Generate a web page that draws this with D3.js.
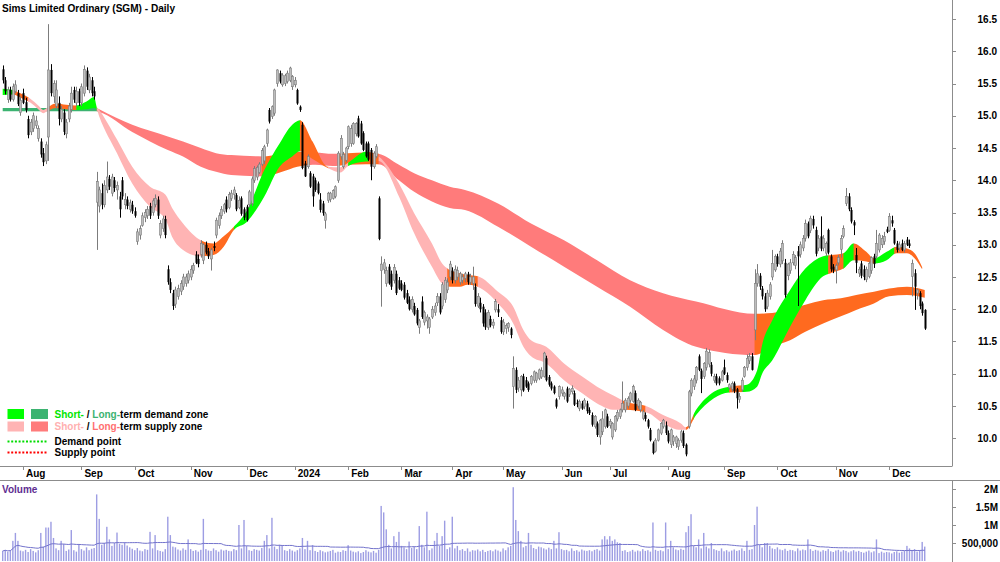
<!DOCTYPE html>
<html>
<head>
<meta charset="utf-8">
<script src="https://cdn.jsdelivr.net/npm/d3@7"></script>
<style>
  body { margin: 0; background: #fff; }
  svg { display: block; font-family: "Liberation Sans", Arial, sans-serif; }
</style>
</head>
<body>
<svg id="chart" width="1000" height="562"></svg>
<script>
// trading calendar: ASX weekdays 20 Jul 2023 .. 20 Dec 2024, public holidays removed
var holidays = ['2023-12-25', '2023-12-26', '2024-01-01', '2024-01-26', '2024-03-29', '2024-04-01', '2024-04-25', '2024-06-10'];

// daily OHLC (A$)
var opens = [
  15.72,15.55,15.25,15.40,15.25,15.38,15.35,15.05,15.35,15.21, 14.95,14.75,14.80,14.85,14.65,14.60,14.42,14.30,14.67,15.71,
  15.30,15.15,15.20,14.95,15.05,14.72,14.95,15.10,15.40,15.20, 15.38,15.20,15.35,15.70,15.40,15.55,15.38,13.66,13.60,13.80,
  13.62,13.85,14.02,13.80,14.00,13.85,13.75,14.00,13.62,13.70, 13.55,13.62,13.52,13.05,13.15,13.30,13.42,13.45,13.60,13.50,
  13.62,13.70,13.15,13.25,13.40,12.62,12.42,12.25,12.08,12.20, 12.28,12.35,12.40,12.45,12.50,12.60,12.85,12.78,12.85,12.76,
  13.00,12.90,12.78,12.98,13.15,13.30,13.45,13.52,13.70,13.58, 13.72,13.78,13.77,13.58,13.72,13.55,13.59,13.62,13.64,14.00,
  14.05,14.12,14.25,14.30,14.57,15.09,14.99,15.04,15.50,15.66, 15.48,15.50,15.53,15.55,15.45,15.48,15.40,15.14,14.86,14.26,
  14.21,14.11,14.06,14.00,13.95,13.70,13.64,13.38,13.69,13.70, 13.72,13.75,14.00,14.37,14.21,14.31,14.52,14.57,14.57,14.72,
  14.96,14.88,14.73,14.57,14.57,14.47,14.21,14.37,13.72,12.60, 12.62,12.40,12.66,12.55,12.45,12.55,12.45,12.40,12.38,12.25,
  12.15,12.00,12.05,11.99,11.72,12.12,11.80,11.82,11.72,11.88, 11.95,12.10,12.20,12.05,12.15,12.30,12.50,12.60,12.45,12.50,
  12.42,12.45,12.48,12.55,12.42,12.40,12.35,12.05,12.10,12.04, 11.95,11.72,11.85,11.75,11.99,12.00,11.83,11.65,11.70,11.72,
  11.70,10.80,11.06,10.78,10.75,10.96,10.90,10.85,10.85,10.90, 10.90,10.93,10.95,10.96,11.24,10.95,10.85,10.80,10.60,10.65,
  10.70,10.65,10.77,10.68,10.72,10.70,10.55,10.46,10.54,10.49, 10.54,10.44,10.36,10.18,10.23,10.02,10.10,10.18,10.34,10.20,
  10.02,10.13,10.30,10.34,10.44,10.44,10.50,10.59,10.57,10.70, 10.50,10.44,10.31,10.36,10.28,10.13,9.92,9.80,9.97,10.08,
  10.18,10.20,10.08,9.90,9.95,9.92,9.87,9.97,10.08,9.90, 10.18,10.70,10.80,10.90,11.27,11.05,10.96,11.10,11.15,11.14,
  10.90,10.96,10.93,10.90,11.10,10.98,10.78,10.76,10.85,10.76, 10.60,10.75,10.96,11.10,11.20,11.27,11.68,12.40,12.52,12.32,
  12.20,12.04,12.20,12.50,12.61,12.82,12.70,12.75,12.72,12.52, 12.60,12.72,12.68,12.90,12.85,12.95,13.10,13.33,13.22,13.40,
  13.23,12.95,13.13,12.95,12.87,13.23,12.82,12.66,12.61,12.72, 12.93,13.13,13.64,13.75,13.54,13.35,12.84,12.56,12.71,12.62,
  12.46,12.51,12.60,12.82,12.82,12.92,13.00,13.05,13.24,13.22, 13.38,13.23,13.02,12.95,13.02,12.92,13.08,13.02,12.51,12.56,
  12.25,12.25,12.09,11.99
];
var highs = [
  15.78,15.60,15.45,15.45,15.50,15.55,15.40,15.30,15.42,15.28, 15.00,14.95,15.05,15.00,14.85,14.65,14.50,14.60,16.42,15.80,
  15.55,15.55,15.30,15.15,15.10,14.95,15.20,15.45,15.45,15.45, 15.42,15.50,15.78,15.75,15.65,15.60,15.45,14.13,13.90,13.95,
  14.00,14.29,14.08,14.10,14.05,13.98,13.82,14.05,13.80,13.75, 13.70,13.68,13.58,13.25,13.30,13.50,13.55,13.60,13.65,13.72,
  13.78,13.75,13.38,13.45,13.45,12.68,12.48,12.30,12.35,12.38, 12.45,12.55,12.55,12.60,12.68,12.72,12.90,12.85,13.07,13.02,
  13.05,12.95,12.95,13.05,13.42,13.50,13.60,13.65,13.75,13.82, 13.85,13.90,13.80,13.75,13.75,13.58,13.62,13.85,14.06,14.22,
  14.23,14.28,14.50,14.55,14.80,15.12,15.16,15.42,15.72,15.70, 15.66,15.65,15.70,15.76,15.63,15.60,15.42,15.16,14.90,14.30,
  14.40,14.14,14.10,14.04,13.98,13.80,13.68,13.51,13.82,13.82, 13.86,13.92,14.45,14.70,14.44,14.52,14.85,14.86,14.90,14.90,
  15.00,14.92,14.76,14.60,14.60,14.50,14.45,14.56,13.75,12.82, 12.78,12.66,12.70,12.60,12.70,12.60,12.50,12.45,12.42,12.30,
  12.20,12.20,12.10,12.02,11.85,12.20,11.98,11.92,11.88,12.05, 12.10,12.25,12.25,12.42,12.50,12.48,12.75,12.65,12.68,12.66,
  12.58,12.55,12.58,12.58,12.55,12.66,12.40,12.25,12.18,12.08, 12.00,11.99,11.90,11.85,12.16,12.08,11.88,11.85,11.78,11.80,
  11.72,11.27,11.10,10.95,10.98,11.00,10.95,10.88,10.98,11.05, 11.03,11.08,11.10,11.34,11.28,10.98,10.88,10.82,10.62,10.82,
  10.80,10.72,10.80,10.78,10.82,10.74,10.60,10.60,10.58,10.62, 10.58,10.48,10.40,10.36,10.26,10.30,10.42,10.46,10.38,10.30,
  10.25,10.36,10.44,10.46,10.88,10.62,10.65,10.72,10.83,10.74, 10.62,10.58,10.44,10.40,10.30,10.16,9.95,10.00,10.15,10.25,
  10.30,10.26,10.12,10.15,10.05,10.04,10.00,10.13,10.12,9.92, 10.75,10.93,10.98,11.12,11.30,11.08,11.18,11.40,11.38,11.18,
  11.00,11.00,10.96,11.06,11.22,11.02,10.85,10.88,10.88,10.78, 10.70,10.94,11.12,11.30,11.32,11.32,12.62,12.70,12.56,12.36,
  12.25,12.30,12.42,12.92,12.85,12.86,12.95,13.07,12.78,12.72, 12.78,12.90,12.84,12.98,13.05,13.15,13.39,13.36,13.45,13.45,
  13.28,13.15,13.44,13.15,13.05,13.25,12.85,12.70,12.71,12.84, 13.15,13.30,13.88,13.80,13.58,13.38,12.95,12.66,12.75,12.68,
  12.66,12.74,12.82,12.86,13.23,13.18,13.15,13.20,13.28,13.49, 13.45,13.26,13.06,13.05,13.08,13.06,13.12,13.08,12.77,12.62,
  12.32,12.28,12.12,12.00
];
var lows = [
  15.50,15.33,15.20,15.22,15.22,15.35,15.15,15.00,15.18,15.05, 14.65,14.70,14.75,14.80,14.60,14.35,14.22,14.25,14.30,15.30,
  15.20,15.10,14.85,14.90,14.70,14.65,14.90,15.05,15.20,15.15, 15.15,15.15,15.30,15.40,15.35,15.30,15.25,12.92,13.50,13.55,
  13.58,13.80,13.85,13.75,13.82,13.70,13.42,13.70,13.55,13.55, 13.50,13.48,13.42,13.00,13.08,13.28,13.35,13.40,13.40,13.45,
  13.58,13.40,13.10,13.20,13.10,12.38,12.25,11.99,12.02,12.15, 12.22,12.30,12.35,12.40,12.45,12.55,12.70,12.65,12.80,12.70,
  12.85,12.78,12.60,12.90,13.10,13.25,13.40,13.48,13.50,13.55, 13.68,13.70,13.52,13.55,13.45,13.38,13.36,13.58,13.60,13.96,
  14.00,14.10,14.22,14.25,14.52,14.88,14.95,15.00,15.45,15.50, 15.45,15.46,15.50,15.52,15.40,15.44,15.17,15.06,14.17,14.05,
  14.18,13.88,13.59,13.82,13.78,13.50,13.45,13.25,13.65,13.66, 13.70,13.72,13.96,14.32,14.18,14.28,14.48,14.52,14.55,14.68,
  14.66,14.55,14.45,14.35,14.30,14.00,14.18,14.34,13.07,12.04, 12.55,12.35,12.38,12.30,12.40,12.22,12.30,12.28,12.15,12.08,
  11.98,11.95,11.90,11.75,11.62,11.85,11.75,11.70,11.62,11.85, 11.90,12.05,11.92,12.00,12.10,12.25,12.45,12.40,12.40,12.45,
  12.38,12.40,12.42,12.38,12.38,12.30,12.04,12.02,11.95,11.73, 11.68,11.68,11.72,11.70,11.95,11.88,11.62,11.60,11.62,11.65,
  11.55,10.46,10.70,10.72,10.65,10.72,10.78,10.72,10.82,10.86, 10.86,10.90,10.92,10.94,10.88,10.80,10.74,10.68,10.46,10.60,
  10.65,10.60,10.55,10.64,10.68,10.50,10.48,10.42,10.44,10.45, 10.38,10.36,10.18,10.15,10.02,9.90,10.05,10.15,10.16,10.15,
  9.98,10.10,10.26,10.30,10.40,10.40,10.46,10.55,10.55,10.42, 10.46,10.40,10.28,10.26,10.15,9.95,9.75,9.78,9.95,10.05,
  10.15,10.05,9.92,9.85,9.88,9.85,9.82,9.93,9.85,9.72, 10.15,10.65,10.75,10.85,11.04,10.70,10.92,11.05,11.10,10.96,
  10.86,10.82,10.82,10.88,10.98,10.86,10.75,10.72,10.70,10.46, 10.55,10.72,10.94,11.05,11.15,11.05,11.52,12.35,12.30,12.15,
  11.96,12.00,12.15,12.45,12.58,12.66,12.65,12.70,12.18,12.45, 12.55,12.68,12.62,12.05,12.80,12.90,13.05,13.10,13.18,13.25,
  12.82,12.90,12.90,12.90,12.82,12.85,12.58,12.56,12.40,12.68, 12.80,13.10,13.60,13.52,13.33,13.15,12.56,12.50,12.48,12.45,
  12.42,12.48,12.55,12.64,12.78,12.88,12.95,13.00,13.18,13.20, 13.28,13.00,12.88,12.90,12.90,12.88,12.98,12.95,12.20,11.99,
  12.15,12.00,11.90,11.68
];
var closes = [
  15.55,15.38,15.40,15.25,15.45,15.48,15.18,15.24,15.20,15.09, 14.70,14.90,15.00,14.92,14.80,14.40,14.28,14.55,15.71,15.35,
  15.50,15.40,14.95,15.10,14.75,14.90,15.15,15.35,15.25,15.38, 15.20,15.45,15.72,15.45,15.60,15.35,15.30,13.98,13.85,13.62,
  13.92,14.05,13.90,14.05,13.88,13.92,13.55,13.75,13.70,13.60, 13.65,13.52,13.45,13.20,13.25,13.45,13.50,13.55,13.45,13.68,
  13.72,13.45,13.33,13.40,13.15,12.42,12.30,12.05,12.30,12.32, 12.40,12.50,12.50,12.55,12.62,12.68,12.72,12.70,13.02,13.00,
  12.88,12.82,12.92,12.95,13.38,13.45,13.55,13.62,13.55,13.78, 13.80,13.85,13.55,13.69,13.48,13.42,13.38,13.82,14.02,14.18,
  14.20,14.25,14.46,14.52,14.78,14.91,15.14,15.40,15.71,15.53, 15.63,15.62,15.66,15.74,15.61,15.55,15.19,15.09,14.19,14.06,
  14.37,13.90,13.75,13.85,13.80,13.54,13.49,13.48,13.80,13.80, 13.84,13.90,14.42,14.65,14.40,14.50,14.83,14.80,14.88,14.88,
  14.68,14.57,14.47,14.37,14.32,14.21,14.42,14.52,13.09,12.70, 12.72,12.60,12.40,12.35,12.65,12.25,12.32,12.30,12.18,12.10,
  12.00,12.15,11.92,11.78,11.82,11.88,11.95,11.88,11.85,12.00, 12.05,12.20,11.95,12.38,12.45,12.42,12.70,12.45,12.62,12.60,
  12.55,12.50,12.55,12.42,12.50,12.50,12.08,12.20,12.00,11.78, 11.72,11.95,11.75,11.80,12.12,11.95,11.65,11.80,11.75,11.78,
  11.60,11.08,10.75,10.90,10.96,10.74,10.80,10.75,10.96,11.03, 11.01,11.06,11.05,11.32,10.90,10.83,10.77,10.70,10.49,10.80,
  10.75,10.70,10.57,10.76,10.77,10.52,10.53,10.57,10.46,10.59, 10.42,10.39,10.21,10.34,10.05,10.28,10.30,10.44,10.18,10.26,
  10.23,10.34,10.40,10.44,10.54,10.59,10.62,10.70,10.80,10.44, 10.59,10.56,10.41,10.30,10.18,9.97,9.77,9.97,10.13,10.23,
  10.28,10.08,9.95,10.13,10.02,10.02,9.97,10.10,9.88,9.75, 10.72,10.90,10.92,11.10,11.06,10.92,11.16,11.35,11.33,11.00,
  10.96,10.85,10.85,11.03,11.00,10.90,10.83,10.85,10.73,10.62, 10.65,10.90,11.10,11.24,11.27,11.06,12.40,12.55,12.35,12.20,
  12.00,12.25,12.38,12.71,12.82,12.70,12.90,13.02,12.22,12.70, 12.72,12.85,12.80,12.82,13.00,13.10,13.33,13.13,13.41,13.30,
  12.86,13.10,12.94,13.10,13.02,12.88,12.62,12.60,12.68,12.80, 13.10,13.25,13.75,13.55,13.36,13.30,12.72,12.62,12.52,12.50,
  12.62,12.71,12.80,12.70,13.02,13.15,13.10,13.13,13.20,13.44, 13.33,13.02,12.92,13.00,12.92,13.02,13.00,12.98,12.71,12.35,
  12.30,12.05,11.94,11.70
];

// daily volume, thousands of shares
var volumes = [
  280,310,260,300,560,780,560,290,270,310, 250,330,280,240,300,780,400,930,930,1090,
  640,350,300,560,470,280,320,860,300,260, 470,330,290,380,300,340,360,1850,1170,450,
  500,950,600,420,500,790,480,450,520,430, 380,340,300,360,290,270,330,310,810,350,
  720,300,280,260,330,1230,720,400,380,320, 290,350,310,600,330,280,300,260,310,1170,
  330,290,280,350,300,260,320,290,310,280, 270,330,300,1000,350,1140,420,300,280,330,
  310,290,360,560,720,350,1200,400,330,450, 430,300,280,330,290,260,300,350,640,330,
  560,300,440,280,250,300,270,240,260,280, 310,230,260,250,300,280,440,290,260,240,
  270,220,250,300,260,240,280,230,310,1530, 1350,880,450,350,690,530,810,420,380,330,
  540,360,400,330,970,450,380,1370,300,350, 560,780,420,690,1120,330,380,1230,350,420,
  300,330,280,350,260,300,290,320,270,310, 250,280,300,270,320,290,260,350,300,380,
  420,2050,1140,830,560,380,420,780,450,360, 330,400,380,350,320,370,330,560,350,800,
  330,300,310,270,350,280,300,260,320,290, 280,300,270,310,330,290,600,690,600,690,
  560,600,520,500,280,300,250,270,310,260, 290,270,330,280,300,260,1070,310,280,300,
  270,1070,330,560,380,320,300,340,310,800, 970,1300,420,380,600,350,780,400,350,500,
  330,300,280,350,270,300,260,290,320,280, 300,350,280,560,310,330,1000,1510,450,380,
  500,500,420,350,330,380,320,300,340,280, 310,300,270,350,290,320,300,600,330,280,
  310,290,260,300,280,330,270,250,290,310, 260,300,280,240,270,300,260,280,250,230,
  260,290,240,270,600,220,260,230,250,240, 210,250,270,230,260,280,420,350,290,330,
  260,300,530,400
];

// short-term ribbon edges, read at sample days (index into trading days)
var stIdx = [0,4,8,11,14,16,18,21,25,29, 33,36,37,38,45,51,58,64,67,71, 78,83,87,91,96,103,109,114,117,122,
  128,133,136,143,148,156,162,169,173,176, 180,183,187,195,201,205,208,214,221,228, 234,241,245,254,260,267,269,273,280,286,
  293,297,299,303,310,316,323,326,331,335, 340,343,348,352,356,359,362];
var stHi = [15.42,15.40,15.33,15.26,15.16,15.09,15.14,15.19,15.17,15.16, 15.22,15.29,15.14,15.09,14.63,14.21,13.90,13.78,13.55,13.33,
  13.07,13.02,13.13,13.28,13.52,14.16,14.57,14.86,14.93,14.60, 14.21,14.20,14.27,14.44,14.37,13.95,13.49,13.02,12.71,12.61,
  12.56,12.53,12.51,12.27,12.04,11.68,11.52,11.42,11.16,10.96, 10.80,10.65,10.57,10.49,10.36,10.23,10.17,10.44,10.72,10.80,
  10.83,11.05,11.45,11.83,12.30,12.63,12.82,12.84,12.87,13.02, 12.89,12.79,12.89,12.97,12.94,12.87,12.65];
var stLo = [15.32,15.33,15.26,15.20,15.10,15.04,15.08,15.12,15.10,15.09, 15.10,15.12,15.10,14.99,14.42,13.95,13.59,13.40,13.10,12.92,
  12.82,12.84,12.97,13.23,13.35,13.75,14.21,14.37,14.45,14.33, 14.19,14.12,14.22,14.29,14.30,13.75,13.18,12.66,12.40,12.35,
  12.35,12.38,12.35,12.09,11.78,11.42,11.27,11.16,10.90,10.70, 10.54,10.44,10.44,10.39,10.23,10.13,10.13,10.36,10.62,10.71,
  10.72,10.80,11.00,11.21,11.73,12.14,12.51,12.56,12.63,12.76, 12.74,12.71,12.76,12.87,12.87,12.79,12.62];

// long-term ribbon edges
var ltIdx = [0,20,37,38,51,65,71,78,84,90, 103,110,116,123,130,136,143,148,156,162,
  169,176,182,195,208,221,234,247,260,273, 296,303,310,316,323,330,336,343,349,356, 363];
var ltHi = [15.12,15.12,15.12,15.10,14.86,14.68,14.60,14.50,14.42,14.39, 14.37,14.42,14.44,14.43,14.41,14.42,14.43,14.41,14.24,14.11,
  14.00,13.90,13.85,13.64,13.33,13.07,12.76,12.45,12.25,12.12, 11.93,11.94,12.01,12.07,12.14,12.17,12.22,12.27,12.32,12.35, 12.30];
var ltLo = [15.07,15.07,15.07,15.06,14.75,14.47,14.37,14.21,14.13,14.08, 14.06,14.13,14.21,14.24,14.22,14.24,14.25,14.25,14.00,13.82,
  13.67,13.57,13.54,13.28,12.97,12.66,12.35,12.04,11.68,11.42, 11.29,11.42,11.52,11.65,11.78,11.89,11.99,12.09,12.20,12.22, 12.18];

// zone state per stretch of days: [from, to, state]
var stRuns = [[0,4,'stUp'],[4,10,'mixed'],[10,18,'stDown'],[18,29,'mixed'],[29,37,'stUp'],[37,78,'stDown'],[78,91,'mixed'],
  [91,117,'stUp'],[117,128,'mixed'],[128,136,'stDown'],[136,144,'stUp'],[144,148,'mixed'],[148,175,'stDown'],[175,187,'mixed'],
  [187,244,'stDown'],[244,253,'mixed'],[253,269,'stDown'],[269,272,'mixed'],[272,286,'stUp'],[286,291,'mixed'],[291,325,'stUp'],
  [325,331,'mixed'],[331,335,'stUp'],[335,343,'mixed'],[343,351,'stUp'],[351,363,'mixed']];
var ltRuns = [[0,37,'ltUp'],[37,102,'ltDown'],[102,121,'mixed'],[121,132,'ltDown'],[132,148,'mixed'],[148,296,'ltDown'],[296,363,'mixed']];

var priceTicks = [10.0,10.5,11.0,11.5,12.0,12.5,13.0,13.5,14.0,14.5,15.0,15.5,16.0,16.5];
var volTicks = [500, 1000, 1500, 2000];
var volTickLabels = ['500,000', '1M', '1.5M', '2M'];

var colours = {
  stUp: '#00ff00', ltUp: '#3cb371',
  stDown: '#ffb4b4', ltDown: '#ff7b7b',
  mixed: '#ff6a1f'
};

//build the trading days
var fmtDay = d3.timeFormat('%Y-%m-%d');
var days = d3.timeDay.range(new Date(2023, 6, 20), new Date(2024, 11, 21))
  .filter(function (d) { return d.getDay() % 6 !== 0 && holidays.indexOf(fmtDay(d)) < 0; });

var n = closes.length;
var svg = d3.select('#chart');

var x = d3.scalePoint().domain(d3.range(n)).range([2.7, 2.7 + (n - 1) * 2.54]);
var y = d3.scaleLinear().domain([10, 16.5]).range([438.25, 19]);
var yv = d3.scaleLinear().domain([0, 2000]).range([561, 489]);

var axisColour = '#8c8c8c';

//ribbons, one path per zone stretch clipped to its days
function drawRibbon(name, idx, hi, lo, runs) {
  var pts = idx.map(function (d, k) { return { i: d, hi: hi[k], lo: lo[k] }; });
  var area = d3.area()
    .x(function (d) { return x(d.i); })
    .y0(function (d) { return y(d.lo); })
    .y1(function (d) { return y(d.hi); })
    .curve(d3.curveMonotoneX);
  var g = svg.append('g');
  runs.forEach(function (r, k) {
    var x0 = k === 0 ? 0 : x(r[0]);
    var x1 = k === runs.length - 1 ? 951 : x(r[1]) + 0.6;
    svg.append('clipPath').attr('id', name + k)
      .append('rect').attr('x', x0).attr('y', 0).attr('width', x1 - x0).attr('height', 466);
    g.append('path')
      .attr('d', area(pts))
      .attr('fill', colours[r[2]])
      .attr('clip-path', 'url(#' + name + k + ')');
  });
}
drawRibbon('lt', ltIdx, ltHi, ltLo, ltRuns);
drawRibbon('st', stIdx, stHi, stLo, stRuns);

//candles
var candles = svg.append('g').selectAll('g')
  .data(d3.range(n))
  .enter().append('g');

candles.append('line')
  .attr('x1', function (i) { return Math.round(x(i)) + 0.5; })
  .attr('x2', function (i) { return Math.round(x(i)) + 0.5; })
  .attr('y1', function (i) { return y(highs[i]); })
  .attr('y2', function (i) { return y(lows[i]); })
  .attr('stroke', function (i) { return closes[i] >= opens[i] ? '#7c7c7c' : '#000'; })
  .attr('stroke-width', 1);

candles.append('rect')
  .attr('x', function (i) { return Math.round(x(i)) - 0.5; })
  .attr('width', 2)
  .attr('y', function (i) { return y(Math.max(opens[i], closes[i])); })
  .attr('height', function (i) { return Math.max(1, Math.abs(y(opens[i]) - y(closes[i]))); })
  .attr('fill', function (i) { return closes[i] >= opens[i] ? '#bdbdbd' : '#000'; })
  .attr('stroke', function (i) { return closes[i] >= opens[i] ? '#7c7c7c' : 'none'; })
  .attr('stroke-width', 0.6);

//volume bars and moving average
svg.append('g').selectAll('rect')
  .data(volumes)
  .enter().append('rect')
  .attr('x', function (d, i) { return x(i) - 0.7; })
  .attr('width', 1.4)
  .attr('y', function (d) { return yv(d); })
  .attr('height', function (d) { return yv(0) - yv(d); })
  .attr('fill', '#9d9de3');

var volAvg = volumes.map(function (d, i) {
  return d3.mean(volumes.slice(Math.max(0, i - 49), i + 1));
});
svg.append('path')
  .attr('d', d3.line().x(function (d, i) { return x(i); }).y(function (d) { return yv(d); })(volAvg))
  .attr('fill', 'none')
  .attr('stroke', '#7373cc')
  .attr('stroke-width', 1);

//frame
svg.append('line').attr('x1', 952.5).attr('x2', 952.5).attr('y1', 0).attr('y2', 466).attr('stroke', axisColour);
svg.append('line').attr('x1', 952.5).attr('x2', 952.5).attr('y1', 480).attr('y2', 562).attr('stroke', axisColour);
svg.append('line').attr('x1', 0).attr('x2', 952.5).attr('y1', 466.5).attr('y2', 466.5).attr('stroke', axisColour);
svg.append('line').attr('x1', 0).attr('x2', 1000).attr('y1', 480.5).attr('y2', 480.5).attr('stroke', axisColour);

//price axis
var pAxis = svg.append('g').selectAll('g').data(priceTicks).enter().append('g');
pAxis.append('line')
  .attr('x1', 953).attr('x2', 956)
  .attr('y1', function (d) { return Math.round(y(d)) + 0.5; })
  .attr('y2', function (d) { return Math.round(y(d)) + 0.5; })
  .attr('stroke', axisColour);
pAxis.append('text')
  .attr('x', 997).attr('y', function (d) { return y(d) + 3.5; })
  .attr('text-anchor', 'end')
  .attr('font-size', 10).attr('font-weight', 'bold')
  .text(function (d) { return d.toFixed(1); });

//volume axis
var vAxis = svg.append('g').selectAll('g').data(volTicks).enter().append('g');
vAxis.append('line')
  .attr('x1', 953).attr('x2', 956)
  .attr('y1', function (d) { return Math.round(yv(d)) + 0.5; })
  .attr('y2', function (d) { return Math.round(yv(d)) + 0.5; })
  .attr('stroke', axisColour);
vAxis.append('text')
  .attr('x', 998).attr('y', function (d) { return yv(d) + 3.5; })
  .attr('text-anchor', 'end')
  .attr('font-size', 10).attr('font-weight', 'bold')
  .text(function (d, k) { return volTickLabels[k]; });

//month axis
var monthStarts = d3.range(1, n).filter(function (i) { return days[i].getMonth() !== days[i - 1].getMonth(); });
var mAxis = svg.append('g').selectAll('g').data(monthStarts).enter().append('g');
mAxis.append('line')
  .attr('x1', function (i) { return Math.round(x(i)) + 0.5; })
  .attr('x2', function (i) { return Math.round(x(i)) + 0.5; })
  .attr('y1', 466).attr('y2', 470)
  .attr('stroke', axisColour);
mAxis.append('text')
  .attr('x', function (i) { return x(i) + 3; })
  .attr('y', 477)
  .attr('font-size', 10).attr('font-weight', 'bold')
  .text(function (i) { return days[i].getMonth() === 0 ? d3.timeFormat('%Y')(days[i]) : d3.timeFormat('%b')(days[i]); });

//titles
svg.append('text').attr('x', 2).attr('y', 12).attr('font-size', 11.5).attr('font-weight', 'bold')
  .attr('textLength', 173).attr('lengthAdjust', 'spacingAndGlyphs')
  .text('Sims Limited Ordinary (SGM) - Daily');
svg.append('text').attr('x', 2).attr('y', 493).attr('font-size', 10).attr('font-weight', 'bold')
  .attr('fill', '#5e2d91').text('Volume');

//legend
var legend = svg.append('g').attr('font-size', 10).attr('font-weight', 'bold');
[['stUp', 'ltUp', 'demand zone'], ['stDown', 'ltDown', 'supply zone']].forEach(function (row, k) {
  var cy = 414 + k * 12.5;
  legend.append('rect').attr('x', 7.5).attr('y', cy - 5).attr('width', 16.5).attr('height', 10).attr('fill', colours[row[0]]);
  legend.append('rect').attr('x', 31).attr('y', cy - 5).attr('width', 17).attr('height', 10).attr('fill', colours[row[1]]);
  var t = legend.append('text').attr('x', 54.5).attr('y', cy + 3.5);
  t.append('tspan').attr('fill', k === 0 ? '#00e600' : '#ffb0b0').text('Short-');
  t.append('tspan').text(' / ');
  t.append('tspan').attr('fill', k === 0 ? '#3cb371' : '#ff7070').text('Long-');
  t.append('tspan').text('term ' + row[2]);
});
[['#00dd00', 'Demand point'], ['#ff0000', 'Supply point']].forEach(function (row, k) {
  var cy = 441.5 + k * 11;
  legend.append('line').attr('x1', 7.5).attr('x2', 48).attr('y1', cy).attr('y2', cy)
    .attr('stroke', row[0]).attr('stroke-width', 2).attr('stroke-dasharray', '2,1.7');
  legend.append('text').attr('x', 54.5).attr('y', cy + 3.5).text(row[1]);
});
</script>
</body>
</html>
